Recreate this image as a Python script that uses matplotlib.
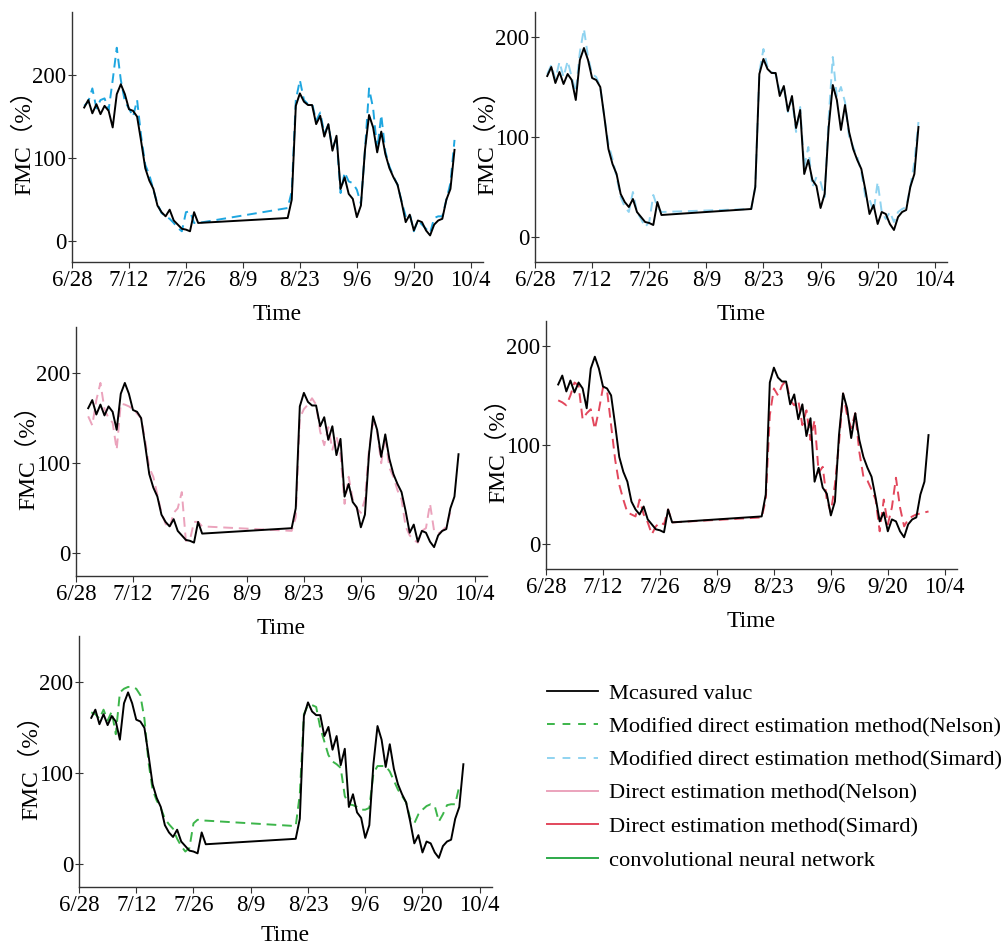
import numpy as np
import pandas as pd
import matplotlib
matplotlib.use("Agg")
import matplotlib.pyplot as plt
from matplotlib.lines import Line2D

plt.rcParams["font.family"] = ["Liberation Serif", "Noto Sans CJK SC"]

# observation dates: 7/1-7/29 and 8/20-9/30 (gap in between)
dates = pd.date_range("2019-07-01", "2019-07-29").append(pd.date_range("2019-08-20", "2019-09-30"))
nan = np.nan

measured = [161, 170, 154, 165, 153, 163, 157, 137, 177, 189, 177, 159, 157, 150, 120,
            88, 73, 63, 43, 35, 30, 38, 25, 20, 15, 14, 12, 35, 22,
            28, 50, 163, 178, 168, 164, 164, 141, 151, 126, 141, 109, 127, 63, 77,
            57, 51, 29, 43, 110, 152, 137, 107, 132, 105, 88, 77, 68, 47, 23,
            32, 13, 25, 23, 13, 7, 20, 25, 27, 50, 63, 110]

mod_simard_a = [163, 168, 184, 160, 170, 172, 158, 194, 233, 194, 168, 160, 150, 170, 126,
                92, 80, 62, 45, 34, 30, 27, 22, 16, 12, 35, 36, 22, 22,
                40, 60, 170, 194, 170, 165, 166, 145, 155, 130, 140, 112, 125, 58, 83,
                72, 70, 62, 45, 110, 184, 160, 110, 152, 108, 90, 78, 68, 48, 30,
                33, 12, 25, 20, 15, 10, 28, 30, 30, 50, 70, 122]

mod_simard_b = [163, 172, 158, 175, 160, 176, 160, 145, 185, 208, 180, 163, 160, 150, 120,
                93, 78, 60, 40, 30, 25, 45, 25, 18, 10, 15, 42, 30, 25,
                28, 50, 165, 188, 170, 165, 163, 145, 150, 125, 138, 105, 130, 70, 90,
                50, 60, 55, 40, 120, 180, 140, 150, 135, 100, 90, 80, 65, 40, 38,
                25, 55, 25, 18, 25, 15, 25, 28, 30, 50, 75, 115]

direct_nelson = [152, 142, 170, 189, 160, 150, 145, 115, 166, 165, 163, 160, 155, 150, 125,
                 95, 85, 65, 45, 33, 28, 45, 50, 68, 14, 15, 35, 35, 30,
                 25, 40, 150, 160, 165, 172, 165, 135, 120, 140, 115, 130, 110, 55, 85,
                 60, 50, 45, 60, 115, 145, 135, 100, 130, 95, 85, 70, 60, 30, 20,
                 15, 12, 25, 28, 55, 25, 22, 25, 30, 46, nan, nan]

direct_simard = [145, 143, 140, 150, 163, 160, 126, 132, 136, 116, 135, 158, 155, 120, 85,
                 60, 45, 32, 30, 28, 45, 30, 22, 10, 18, 22, 20, 35, 22,
                 27, 45, 130, 157, 150, 160, 165, 145, 140, 145, 120, 135, 105, 125, 72,
                 78, 45, 32, 60, 102, 152, 130, 117, 132, 93, 68, 64, 55, 45, 13,
                 45, 20, 37, 67, 37, 18, 25, 28, 30, 31, 32, 33]

mod_nelson = [167, 165, 160, 170, 158, 168, 143, 189, 193, 195, 195, 193, 186, 160, 112,
              82, 70, 62, 50, 44, 39, 28, 20, 14, 18, 45, 49, 48, 48,
              42, 77, 165, 175, 175, 173, 150, 135, 120, 113, 110, 106, 75, 66, 65,
              63, 60, 60, 62, 100, 108, 108, 108, 102, 92, 82, 75, 68, 50, 45,
              55, 60, 64, 66, 64, 47, 55, 65, 66, 66, 86, nan]

tick_dates = pd.date_range("2019-06-28", periods=8, freq="14D")
tick_labels = ["6/28", "7/12", "7/26", "8/9", "8/23", "9/6", "9/20", "10/4"]

legend_labels = ["Mcasured valuc",
                 "Modified direct estimation method(Nelson)",
                 "Modified direct estimation method(Simard)",
                 "Direct estimation method(Nelson)",
                 "Direct estimation method(Simard)",
                 "convolutional neural network"]

W, H = 1007, 946
fig = plt.figure(figsize=(W / 100, H / 100), dpi=100)


def px_axes(l, t, r, b):
    return fig.add_axes([l / W, 1 - b / H, (r - l) / W, (b - t) / H])


panels = [
    ((72, 12, 483, 262), mod_simard_a, "#1EA6E0", 276, 9),
    ((535, 12, 947, 262), mod_simard_b, "#8FD3F0", 225, 9),
    ((76, 327, 487, 576), direct_nelson, "#EBA3BC", 251, 9),
    ((546, 321, 957, 569), direct_simard, "#E2475C", 225, 9),
    ((79, 636, 492, 887), mod_nelson, "#3CB54A", 251, 6),
]

for rect, pred, color, ytop, xpad in panels:
    ax = px_axes(*rect)
    ax.plot(dates, pred, color=color, lw=1.4, dashes=(5, 3), zorder=2)
    ax.plot(dates, measured, color="black", lw=1.4, zorder=3)
    ax.set_xlim(pd.Timestamp("2019-06-28"), pd.Timestamp("2019-10-07"))
    ax.set_ylim(-25, ytop)
    ax.set_xticks(tick_dates)
    ax.set_xticklabels(tick_labels)
    ax.set_yticks([0, 100, 200])
    ax.tick_params(labelsize=16.5, width=0.8, colors="#333333", labelcolor="black")
    ax.tick_params(axis="x", length=4, pad=2)
    ax.tick_params(axis="y", direction="inout", length=6, pad=1)
    for s in ["top", "right"]:
        ax.spines[s].set_visible(False)
    for s in ["left", "bottom"]:
        ax.spines[s].set_color("#333333")
        ax.spines[s].set_linewidth(1.0)
    ax.set_xlabel("Time", fontsize=17, labelpad=xpad)
    ax.set_ylabel("FMC（%）", fontsize=17, labelpad=-2)

handles = [
    Line2D([], [], color="black", lw=1.3),
    Line2D([], [], color="#3CB54A", lw=1.4, dashes=(4, 4)),
    Line2D([], [], color="#8FD3F0", lw=1.4, dashes=(4, 4)),
    Line2D([], [], color="#EBA3BC", lw=1.4),
    Line2D([], [], color="#E2475C", lw=1.4),
    Line2D([], [], color="#2DAA4A", lw=1.4),
]
fig.legend(handles, legend_labels, loc="upper left", bbox_to_anchor=(538 / W, 1 - 674 / H),
           frameon=False, fontsize=16.2, handlelength=2.25, handletextpad=0.5,
           labelspacing=0.56, borderaxespad=0)

fig.savefig("out.png", dpi=100)
